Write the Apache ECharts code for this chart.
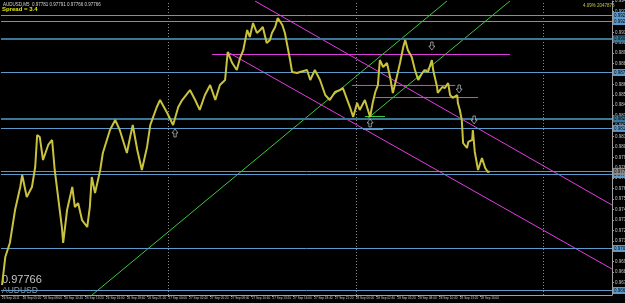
<!DOCTYPE html>
<html>
<head>
<meta charset="utf-8">
<script src="https://cdn.jsdelivr.net/npm/echarts@6/dist/echarts.min.js"></script>
<style>
html, body { margin: 0; padding: 0; background: #000; }
#chart { width: 625px; height: 303px; }
</style>
</head>
<body>
<div id="chart"></div>
<script>
// AUDUSD M5 price path, time = minutes since 26 Sep 2011 00:00
const times = [
    160, 185, 220, 260, 300, 315, 350, 390, 415, 430,
    450, 475, 515, 545, 565, 620, 630, 660, 700, 720,
    745, 775, 815, 835, 850, 875, 915, 935, 990, 1030,
    1065, 1120, 1145, 1165, 1200, 1235, 1275, 1300, 1350, 1375,
    1430, 1475, 1515, 1545, 1605, 1645, 1680, 1720, 1760, 1800,
    1835, 1875, 1895, 1930, 1965, 1990, 2015, 2045, 2065, 2090,
    2120, 2145, 2165, 2195, 2220, 2235, 2260, 2280, 2315, 2335,
    2360, 2375, 2390, 2430, 2450, 2505, 2530, 2565, 2605, 2645,
    2680, 2720, 2760, 2780, 2835, 2860, 2890, 2910, 2950, 2990,
    3010, 3030, 3050, 3065, 3090, 3120, 3145, 3165, 3195, 3220,
    3245, 3260, 3280, 3310, 3335, 3360, 3390, 3410, 3435, 3465,
    3475, 3505, 3510, 3545, 3565, 3590, 3605, 3625, 3660, 3665,
    3680, 3695, 3705, 3735, 3745, 3775, 3780, 3795, 3820, 3850,
    3875, 3895, 3910
];
const prices = [
    0.96676, 0.96944, 0.97079, 0.97395, 0.97616, 0.97731, 0.97520, 0.97616, 0.97808, 0.98115,
    0.98096, 0.97875, 0.98019, 0.98067, 0.97779, 0.97232, 0.97079, 0.97395, 0.97616, 0.97424,
    0.97462, 0.97299, 0.97232, 0.97424, 0.97712, 0.97558, 0.97779, 0.97942, 0.98163, 0.98259,
    0.98163, 0.97942, 0.98096, 0.98211, 0.97971, 0.97779, 0.98000, 0.98211, 0.98383, 0.98450,
    0.98326, 0.98211, 0.98383, 0.98450, 0.98546, 0.98450, 0.98355, 0.98498, 0.98594, 0.98450,
    0.98594, 0.98642, 0.98911, 0.98805, 0.98738, 0.98853, 0.98930, 0.99122, 0.99055, 0.99189,
    0.99093, 0.99122, 0.99151, 0.98997, 0.99026, 0.99093, 0.99151, 0.99237, 0.99170, 0.99093,
    0.98930, 0.98834, 0.98719, 0.98709, 0.98719, 0.98738, 0.98642, 0.98738, 0.98642, 0.98498,
    0.98450, 0.98527, 0.98546, 0.98566, 0.98383, 0.98287, 0.98422, 0.98355, 0.98450, 0.98287,
    0.98422, 0.98527, 0.98594, 0.98834, 0.98767, 0.98805, 0.98661, 0.98518, 0.98671, 0.98805,
    0.98959, 0.99026, 0.98930, 0.98863, 0.98738, 0.98642, 0.98709, 0.98738, 0.98719, 0.98834,
    0.98738, 0.98575, 0.98518, 0.98575, 0.98566, 0.98613, 0.98498, 0.98470, 0.98498, 0.98422,
    0.98355, 0.98259, 0.98038, 0.97990, 0.98048, 0.98067, 0.98163, 0.97952, 0.97779, 0.97894,
    0.97798, 0.97760, 0.97766
];

// time axis labels, every 160 minutes
const dateTicks = [160, 320, 480, 640, 800, 960, 1120, 1280, 1440, 1600, 1760, 1920,
    2080, 2240, 2400, 2560, 2720, 2880, 3040, 3200, 3360, 3520, 3680, 3840];
const dateLabels = ["26 Sep 2011", "26 Sep 05:20", "26 Sep 08:00", "26 Sep 10:40", "26 Sep 13:20",
    "26 Sep 16:00", "26 Sep 18:40", "26 Sep 21:20", "27 Sep 00:00", "27 Sep 02:40", "27 Sep 05:20",
    "27 Sep 08:00", "27 Sep 10:40", "27 Sep 13:20", "27 Sep 16:00", "27 Sep 18:40", "27 Sep 21:20",
    "28 Sep 00:00", "28 Sep 02:40", "28 Sep 05:20", "28 Sep 08:00", "28 Sep 10:40", "28 Sep 13:20",
    "28 Sep 16:00"];
const priceTicks = [0.9660, 0.9670, 0.9680, 0.9690, 0.9700, 0.9710, 0.9720, 0.9730, 0.9740, 0.9750,
    0.9760, 0.9770, 0.9780, 0.9790, 0.9800, 0.9810, 0.9820, 0.9830, 0.9840, 0.9850, 0.9860,
    0.9870, 0.9880, 0.9890, 0.9900, 0.9910, 0.9920, 0.9930, 0.9940];

const daySeparators = [1440, 2880, 4320];

// horizontal support / resistance lines
const levelPrices = [0.99261, 0.99203, 0.99036, 0.98714, 0.98268, 0.98178, 0.97736, 0.97026, 0.96623];
const levelHeavy = [false, false, true, false, true, false, false, false, false];
const bidPrice = 0.97766;

// short horizontal segments: [start, end, price]
const pinkSegments = [[1775, 4065, 0.98887], [2850, 3645, 0.98590], [3030, 3820, 0.98474]];
const greenSegments = [[2950, 3105, 0.98292], [2935, 3090, 0.98167]];

// trend lines: [t1, p1, t2, p2]
const greenTrends = [[852, 0.9658, 3581, 0.9940], [2966, 0.98268, 4065, 0.9940]];
const pinkTrends = [[2105, 0.9940, 4850, 0.97443], [1895, 0.98911, 4850, 0.96829]];

const upArrows = [[1490, 0.98134], [2990, 0.98230]];
const downArrows = [[3465, 0.98968], [3675, 0.98556], [3790, 0.98259]];

const chart = echarts.init(document.getElementById('chart'));

const blue = '#5b9acb';
const blueDark = '#3a7695';
const magenta = '#e63ce6';
const green = '#3cc83c';

// one small line series per drawn object
function drawing(t1, p1, t2, p2, color) {
    return {
        type: 'line',
        data: [[t1, p1], [t2, p2]],
        showSymbol: false,
        silent: true,
        lineStyle: { color: color, width: 1, opacity: 1 },
        itemStyle: { color: color },
        emphasis: { disabled: true },
        z: 4
    };
}

const levelLines = levelPrices.map((p, i) => ({
    yAxis: p,
    lineStyle: { color: levelHeavy[i] ? blueDark : blue, width: levelHeavy[i] ? 2 : 1, type: 'solid' },
    label: { backgroundColor: levelHeavy[i] ? blueDark : blue }
}));
levelLines.push({
    yAxis: bidPrice,
    lineStyle: { color: '#8a8a8a', width: 1, type: 'solid' },
    label: { backgroundColor: '#8a8a8a' }
});

const upPath = 'path://M5,0 L10,5 L7,5 L7,10 L3,10 L3,5 L0,5 Z';
const downPath = 'path://M3,0 L7,0 L7,5 L10,5 L5,10 L0,5 L3,5 Z';

const option = {
    backgroundColor: '#000000',
    animation: false,
    grid: { left: 1, right: 13, top: 1, bottom: 8, containLabel: false, outerBoundsMode: 'none' },
    xAxis: {
        type: 'value',
        min: 152,
        max: 4850,
        splitLine: { show: false },
        axisLine: { show: true, lineStyle: { color: '#a0a0a0', width: 1 } },
        axisTick: { show: true, customValues: dateTicks, length: 2, lineStyle: { color: '#a0a0a0' } },
        axisLabel: {
            customValues: dateTicks,
            interval: 0,
            formatter: v => dateLabels[Math.round((v - 160) / 160)] || '',
            color: '#c8c8c8',
            fontSize: 3.1,
            fontFamily: 'Liberation Sans',
            align: 'left',
            margin: 2,
            showMinLabel: true,
            showMaxLabel: true,
            hideOverlap: false
        }
    },
    yAxis: {
        type: 'value',
        position: 'right',
        min: 0.9658,
        max: 0.9940,
        splitLine: { show: false },
        axisLine: { show: true, lineStyle: { color: '#a0a0a0', width: 1 } },
        axisTick: { show: true, customValues: priceTicks, length: 2, lineStyle: { color: '#a0a0a0' } },
        axisLabel: {
            customValues: priceTicks,
            formatter: v => v.toFixed(5),
            color: '#c8c8c8',
            fontSize: 4.5,
            fontFamily: 'Liberation Sans',
            margin: 3
        }
    },
    graphic: [
        { type: 'text', left: 3, top: 2, style: { text: 'AUDUSD,M5  0.97781 0.97791 0.97766 0.97766', fill: '#d8d8d8', font: '4.5px Liberation Sans' } },
        { type: 'text', left: 2, top: 6, style: { text: 'Spread = 3.4', fill: '#e6e600', font: 'bold 6px Liberation Sans' } },
        { type: 'text', left: 583, top: 3.5, style: { text: '4.09% 2047878', fill: '#c8c83c', font: '4.5px Liberation Sans' } },
        { type: 'text', left: 2, top: 274, style: { text: prices[prices.length - 1].toFixed(5), fill: '#c4c4c4', font: '11px Liberation Sans' } },
        { type: 'text', left: 2, top: 286, style: { text: 'AUDUSD', fill: '#9a9a9a', font: '8.5px Liberation Sans' } }
    ],
    series: [
        {
            name: 'separators',
            type: 'line',
            data: [],
            silent: true,
            markLine: {
                symbol: 'none',
                silent: true,
                precision: 5,
                label: { show: false },
                lineStyle: { color: '#8c8c8c', width: 1, type: [1, 2] },
                data: daySeparators.map(t => ({ xAxis: t }))
            }
        },
        {
            name: 'levels',
            type: 'line',
            data: [],
            silent: true,
            markLine: {
                symbol: 'none',
                silent: true,
                precision: 5,
                label: {
                    show: true,
                    position: 'end',
                    distance: 1,
                    formatter: p => Number(p.value).toFixed(5),
                    color: '#000',
                    fontSize: 4.5,
                    fontFamily: 'Liberation Sans',
                    padding: [1, 1]
                },
                data: levelLines
            }
        },
        ...pinkSegments.map(s => drawing(s[0], s[2], s[1], s[2], magenta)),
        ...greenSegments.map(s => drawing(s[0], s[2], s[1], s[2], green)),
        ...greenTrends.map(s => drawing(s[0], s[1], s[2], s[3], green)),
        ...pinkTrends.map(s => drawing(s[0], s[1], s[2], s[3], magenta)),
        {
            name: 'AUDUSD',
            type: 'line',
            data: times.map((t, i) => [t, prices[i]]),
            showSymbol: false,
            lineStyle: { color: '#c9c23e', width: 2 },
            z: 5
        },
        {
            name: 'up',
            type: 'scatter',
            data: upArrows,
            symbol: upPath,
            symbolSize: [6, 8],
            itemStyle: { color: '#000', borderColor: '#d8d8d8', borderWidth: 0.8 },
            z: 6
        },
        {
            name: 'down',
            type: 'scatter',
            data: downArrows,
            symbol: downPath,
            symbolSize: [6, 8],
            itemStyle: { color: '#000', borderColor: '#d8d8d8', borderWidth: 0.8 },
            z: 6
        }
    ]
};

chart.setOption(option);
</script>
</body>
</html>
